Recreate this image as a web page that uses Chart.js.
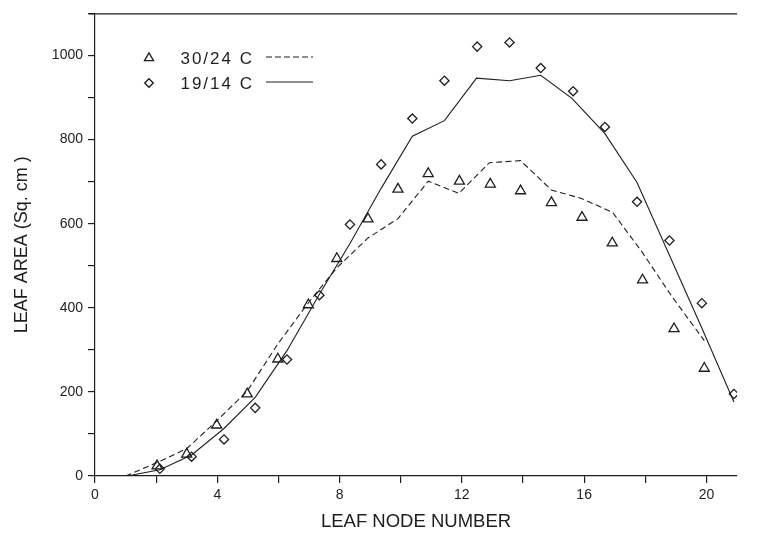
<!DOCTYPE html>
<html>
<head>
<meta charset="utf-8">
<script src="https://cdn.jsdelivr.net/npm/chart.js@4.4.1/dist/chart.umd.min.js"></script>
<style>
  html, body { margin: 0; padding: 0; background: #ffffff; }
  #wrap { width: 757px; height: 543px; }
</style>
</head>
<body>
<div id="wrap"><canvas id="c" width="757" height="543"></canvas></div>
<script>
// ---- Data ----
const seriesLabels = ['30/24 C', '19/14 C'];

// 30/24 C observed (triangles)
const hotX = [2.03, 3.0, 3.98, 4.98, 5.98, 6.98, 7.91, 8.93, 9.91, 10.9, 11.92, 12.93, 13.92, 14.93, 15.93, 16.92, 17.91, 18.94, 19.93];
const hotY = [24, 52, 121, 195, 278, 407, 517, 611, 682, 719, 701, 694, 678, 650, 615, 554, 466, 350, 256];

// 19/14 C observed (diamonds)
const coolX = [2.12, 3.16, 4.22, 5.24, 6.28, 7.34, 8.34, 9.36, 10.38, 11.43, 12.5, 13.56, 14.58, 15.64, 16.68, 17.73, 18.79, 19.85, 20.9];
const coolY = [17, 46, 87, 162, 277, 430, 598, 741, 850, 940, 1021, 1031, 970, 915, 830, 652, 560, 411, 195];

// 30/24 C fitted curve (dashed)
const hotFitX = [1.0, 2.03, 3.0, 3.98, 4.98, 5.98, 6.98, 7.91, 8.93, 9.91, 10.9, 11.9, 12.9, 13.92, 14.93, 15.91, 16.93, 17.88, 18.86, 19.93];
const hotFitY = [0, 32, 65, 131, 202, 314, 412, 495, 566, 612, 701, 672, 745, 750, 680, 660, 627, 534, 428, 322];

// 19/14 C fitted curve (solid)
const coolFitX = [1.05, 2.12, 3.16, 4.22, 5.24, 6.28, 7.34, 8.34, 9.36, 10.38, 11.43, 12.48, 13.56, 14.58, 15.6, 16.68, 17.73, 18.79, 19.85, 20.9];
const coolFitY = [0, 15, 50, 113, 187, 298, 432, 553, 684, 808, 845, 946, 940, 953, 898, 814, 698, 525, 352, 176];

// Axis ticks
const xTickValues = [0, 2, 4, 6, 8, 10, 12, 14, 16, 18, 20];
const xTickLabels = ['0', '', '4', '', '8', '', '12', '', '16', '', '20'];
const yTickValues = [0, 100, 200, 300, 400, 500, 600, 700, 800, 900, 1000, 1100];
const yTickLabels = ['0', '', '200', '', '400', '', '600', '', '800', '', '1000', ''];

const xTitle = 'LEAF NODE NUMBER';
const yTitle = 'LEAF AREA (Sq. cm )';

// ---- Build ----
const pts = (xs, ys) => xs.map((x, i) => ({ x: x, y: ys[i] }));
const INK = '#1e1e1e';
const FONT = "'Liberation Sans', Arial, sans-serif";

const datasets = [
  { label: seriesLabels[0], data: pts(hotX, hotY), showLine: false,
    pointStyle: 'triangle', pointRadius: 5.8, pointBorderWidth: 1.3,
    borderColor: INK, backgroundColor: 'rgba(0,0,0,0)', legendLine: [6, 3] },
  { label: seriesLabels[1], data: pts(coolX, coolY), showLine: false,
    pointStyle: 'rectRot', pointRadius: 4.6, pointBorderWidth: 1.3,
    borderColor: INK, backgroundColor: 'rgba(0,0,0,0)', legendLine: [] },
  { label: seriesLabels[0] + ' fit', data: pts(hotFitX, hotFitY), showLine: true,
    pointRadius: 0, borderColor: INK, borderWidth: 1.1, borderDash: [6, 3.5], fill: false, tension: 0 },
  { label: seriesLabels[1] + ' fit', data: pts(coolFitX, coolFitY), showLine: true,
    pointRadius: 0, borderColor: INK, borderWidth: 1.1, fill: false, tension: 0 }
];

const frameAndLegend = {
  id: 'frameAndLegend',
  afterDraw(chart) {
    const ctx = chart.ctx;
    const a = chart.chartArea;
    ctx.save();
    // top frame line
    ctx.strokeStyle = INK;
    ctx.lineWidth = 1.2;
    ctx.beginPath();
    ctx.moveTo(a.left - 6, a.top + 0.5);
    ctx.lineTo(a.right, a.top + 0.5);
    ctx.stroke();

    // legend: marker, label, line sample
    const rows = [58, 83];
    const markerX = 149, textRight = 254, lineX0 = 266, lineX1 = 313;
    [0, 1].forEach((i) => {
      const ds = chart.data.datasets[i];
      const y = rows[i];
      ctx.fillStyle = 'rgba(0,0,0,0)';
      ctx.strokeStyle = INK;
      ctx.lineWidth = 1.3;
      Chart.helpers.drawPoint(ctx, {
        pointStyle: ds.pointStyle, rotation: 0,
        radius: ds.pointStyle === 'triangle' ? 5.2 : 4.3, borderWidth: 1.3
      }, markerX, y);
      ctx.font = '17px ' + FONT;
      ctx.fillStyle = INK;
      ctx.textAlign = 'right';
      ctx.textBaseline = 'middle';
      try { ctx.letterSpacing = '2px'; } catch (e) {}
      ctx.fillText(ds.label, textRight, y + 1);
      ctx.lineWidth = 1.1;
      ctx.setLineDash(ds.legendLine);
      ctx.beginPath();
      ctx.moveTo(lineX0, y - 1);
      ctx.lineTo(lineX1, y - 1);
      ctx.stroke();
      ctx.setLineDash([]);
    });
    ctx.restore();
  }
};

new Chart(document.getElementById('c'), {
  type: 'scatter',
  data: { datasets: datasets },
  plugins: [frameAndLegend],
  options: {
    responsive: false,
    animation: false,
    devicePixelRatio: 1,
    layout: { padding: { top: 11, right: 20, left: 0, bottom: 0 } },
    plugins: { legend: { display: false }, tooltip: { enabled: false } },
    scales: {
      x: {
        type: 'linear', min: 0, max: 21,
        afterFit: (s) => { s.height = 67; },
        afterBuildTicks: (s) => { s.ticks = xTickValues.map(v => ({ value: v })); },
        ticks: {
          autoSkip: false, maxRotation: 0, padding: 4,
          color: INK, font: { family: FONT, size: 14 },
          callback: (v) => { const i = xTickValues.indexOf(v); return i >= 0 ? xTickLabels[i] : ''; }
        },
        grid: { drawOnChartArea: false, drawTicks: true, tickLength: 7, color: INK, lineWidth: 1.2 },
        border: { display: true, color: INK, width: 1.2 },
        title: { display: true, text: xTitle, color: INK,
                 font: { family: FONT, size: 18.5 }, padding: { top: 4, bottom: 10 } }
      },
      y: {
        type: 'linear', min: 0, max: 1100,
        afterFit: (s) => { s.width = 95; },
        afterBuildTicks: (s) => { s.ticks = yTickValues.map(v => ({ value: v })); },
        ticks: {
          autoSkip: false, padding: 5,
          color: INK, font: { family: FONT, size: 14 },
          callback: (v) => { const i = yTickValues.indexOf(v); return i >= 0 ? yTickLabels[i] : ''; }
        },
        grid: { drawOnChartArea: false, drawTicks: true, tickLength: 7, color: INK, lineWidth: 1.2 },
        border: { display: true, color: INK, width: 1.2 },
        title: { display: true, text: yTitle, color: INK,
                 font: { family: FONT, size: 18 }, padding: { top: 11, bottom: 0 } }
      }
    }
  }
});
</script>
</body>
</html>
